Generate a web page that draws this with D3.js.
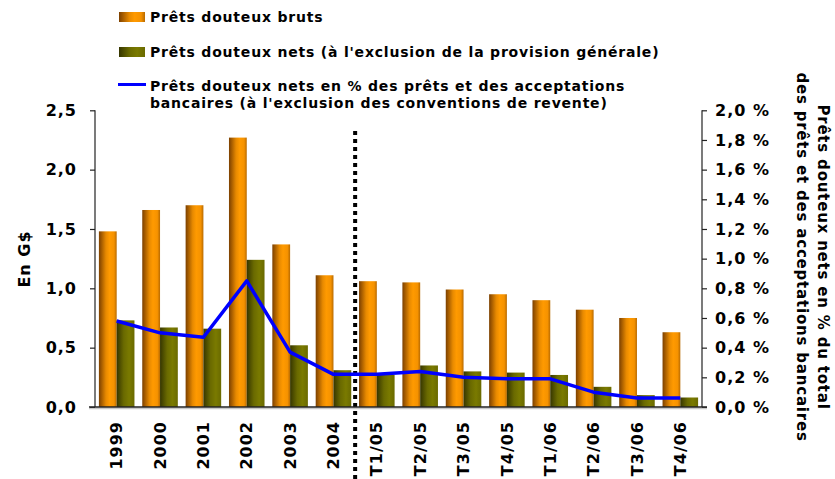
<!DOCTYPE html>
<html>
<head>
<meta charset="utf-8">
<script src="https://cdn.jsdelivr.net/npm/d3@7"></script>
<style>
  body { margin: 0; background: #fff; }
  svg { display: block; font-family: "DejaVu Sans", Verdana, sans-serif; font-weight: bold; }
</style>
</head>
<body>
<svg id="chart" width="835" height="479"></svg>
<script>
// Categories: annual figures, then quarters
const categories = ["1999", "2000", "2001", "2002", "2003", "2004",
  "T1/05", "T2/05", "T3/05", "T4/05", "T1/06", "T2/06", "T3/06", "T4/06"];

// Gross impaired loans (G$)
const pretsBruts = [1.48, 1.66, 1.70, 2.27, 1.37, 1.11, 1.06, 1.05, 0.99, 0.95, 0.90, 0.82, 0.75, 0.63];

// Net impaired loans, excluding general allowance (G$)
const pretsNets = [0.73, 0.67, 0.66, 1.24, 0.52, 0.31, 0.27, 0.35, 0.30, 0.29, 0.27, 0.17, 0.10, 0.08];

// Net impaired loans as % of loans and acceptances
const pretsNetsPct = [0.58, 0.50, 0.47, 0.85, 0.37, 0.22, 0.22, 0.24, 0.20, 0.19, 0.19, 0.10, 0.06, 0.06];

const leftTicks = [0, 0.5, 1.0, 1.5, 2.0, 2.5];
const rightTicks = [0, 0.2, 0.4, 0.6, 0.8, 1.0, 1.2, 1.4, 1.6, 1.8, 2.0];

const svg = d3.select("#chart");
const frNum = d3.formatLocale({ decimal: ",", thousands: " ", grouping: [3], currency: ["", " $"] });
const fmt1 = frNum.format(".1f");

const plot = { left: 95, right: 702, top: 110.3, bottom: 407 };

const x = d3.scaleBand().domain(categories).range([plot.left, plot.right])
  .paddingInner(0.18).paddingOuter(0.09);
const xs = d3.scaleBand().domain(["bruts", "nets"]).range([0, x.bandwidth()]);
const yL = d3.scaleLinear().domain([0, 2.5]).range([plot.bottom, plot.top]);
const yR = d3.scaleLinear().domain([0, 2.0]).range([plot.bottom, plot.top]);

// Gradients for the bars
const defs = svg.append("defs");
const gOrange = defs.append("linearGradient").attr("id", "gOrange");
[["0%", "#7c4000"], ["40%", "#e88a00"], ["60%", "#ff9a00"], ["85%", "#f59200"], ["100%", "#b86a00"]]
  .forEach(([o, c]) => gOrange.append("stop").attr("offset", o).attr("stop-color", c));
const gGreen = defs.append("linearGradient").attr("id", "gGreen");
[["0%", "#363600"], ["40%", "#6a6a00"], ["70%", "#7a7a00"], ["100%", "#6a6a00"]]
  .forEach(([o, c]) => gGreen.append("stop").attr("offset", o).attr("stop-color", c));

// Bars
const groups = svg.append("g").selectAll("g").data(categories).join("g")
  .attr("transform", d => `translate(${x(d)},0)`);
groups.append("rect")
  .attr("x", xs("bruts")).attr("width", xs.bandwidth())
  .attr("y", (d, i) => yL(pretsBruts[i]))
  .attr("height", (d, i) => yL(0) - yL(pretsBruts[i]))
  .attr("fill", "url(#gOrange)");
groups.append("rect")
  .attr("x", xs("nets")).attr("width", xs.bandwidth())
  .attr("y", (d, i) => yL(pretsNets[i]))
  .attr("height", (d, i) => yL(0) - yL(pretsNets[i]))
  .attr("fill", "url(#gGreen)");

// Separator between annual and quarterly data
const sepX = (x("2004") + x.bandwidth() + x("T1/05")) / 2;
svg.append("line")
  .attr("x1", sepX).attr("x2", sepX).attr("y1", 131).attr("y2", 479)
  .attr("stroke", "#000").attr("stroke-width", 4).attr("stroke-dasharray", "4,4");

// Percentage line
const line = d3.line()
  .x((d, i) => x(categories[i]) + x.bandwidth() / 2)
  .y(d => yR(d));
svg.append("path").datum(pretsNetsPct)
  .attr("d", line).attr("fill", "none")
  .attr("stroke", "#0000ff").attr("stroke-width", 3.5).attr("stroke-linejoin", "round");

// Axes
const axisColor = "#222";
const leftAxis = svg.append("g").attr("transform", `translate(${plot.left},0)`)
  .call(d3.axisLeft(yL).tickValues(leftTicks).tickSize(5).tickPadding(13).tickFormat(fmt1));
const rightAxis = svg.append("g").attr("transform", `translate(${plot.right},0)`)
  .call(d3.axisRight(yR).tickValues(rightTicks).tickSize(5).tickPadding(8).tickFormat(d => fmt1(d) + " %"));
[leftAxis, rightAxis].forEach(a => {
  a.select(".domain").attr("stroke", axisColor).attr("stroke-width", 1.2);
  a.selectAll(".tick line").attr("stroke", axisColor).attr("stroke-width", 1.2);
  a.selectAll(".tick text").attr("font-size", 16).attr("font-family", "DejaVu Sans, sans-serif")
    .attr("font-weight", "bold").attr("fill", "#000").attr("letter-spacing", 1);
});
leftAxis.select(".domain").attr("d", `M0,${plot.top}V${plot.bottom}`);
rightAxis.select(".domain").attr("d", `M0,${plot.top}V${plot.bottom}`);

// Baseline
svg.append("line").attr("x1", plot.left - 6).attr("x2", plot.right + 5)
  .attr("y1", plot.bottom + 1.5).attr("y2", plot.bottom + 1.5).attr("stroke", "#c8c8c8").attr("stroke-width", 1.5);
svg.append("line").attr("x1", plot.left - 6).attr("x2", plot.right + 5)
  .attr("y1", plot.bottom).attr("y2", plot.bottom).attr("stroke", axisColor).attr("stroke-width", 1.3);

// Category labels
svg.append("g").selectAll("text").data(categories).join("text")
  .attr("transform", d => `translate(${x(d) + x.bandwidth() / 2},421) rotate(-90)`)
  .attr("text-anchor", "end").attr("dy", "0.35em")
  .attr("font-size", 16).attr("letter-spacing", 1).attr("fill", "#000")
  .text(d => d);

// Axis titles
svg.append("text")
  .attr("transform", "translate(30,259) rotate(-90)")
  .attr("text-anchor", "middle").attr("font-size", 16).attr("letter-spacing", 1).attr("fill", "#000")
  .text("En G$");
const rt = svg.append("text")
  .attr("transform", "translate(818,257) rotate(90)")
  .attr("text-anchor", "middle").attr("font-size", 15).attr("letter-spacing", 0.8).attr("fill", "#000");
rt.append("tspan").attr("x", 0).attr("y", 0).text("Prêts douteux nets en % du total");
rt.append("tspan").attr("x", 0).attr("y", 21).text("des prêts et des acceptations bancaires");

// Legend
const legend = svg.append("g").attr("font-size", 14).attr("letter-spacing", 0.8).attr("fill", "#000");
legend.append("rect").attr("x", 119).attr("y", 12).attr("width", 26).attr("height", 10).attr("fill", "url(#gOrange)");
legend.append("text").attr("x", 150).attr("y", 22).text("Prêts douteux bruts");
legend.append("rect").attr("x", 119).attr("y", 47).attr("width", 26).attr("height", 10).attr("fill", "url(#gGreen)");
legend.append("text").attr("x", 150).attr("y", 57).text("Prêts douteux nets (à l'exclusion de la provision générale)");
legend.append("line").attr("x1", 118).attr("x2", 146).attr("y1", 84.5).attr("y2", 84.5)
  .attr("stroke", "#0000ff").attr("stroke-width", 3);
const lt = legend.append("text").attr("x", 150).attr("y", 91);
lt.append("tspan").attr("x", 150).attr("y", 91).text("Prêts douteux nets en % des prêts et des acceptations");
lt.append("tspan").attr("x", 150).attr("y", 108).text("bancaires (à l'exclusion des conventions de revente)");
</script>
</body>
</html>
